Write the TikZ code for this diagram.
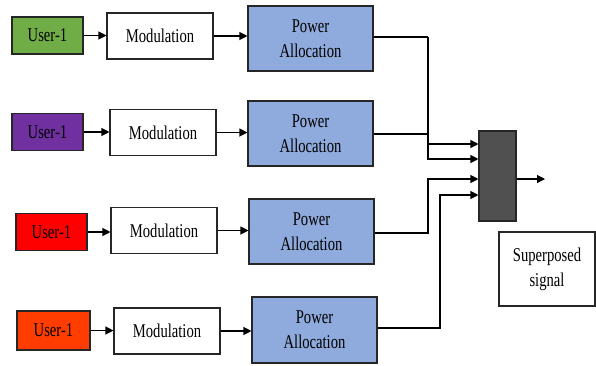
\documentclass[tikz,border=0pt]{standalone}
\usepackage{fontspec}
\usepackage{graphicx}
\setmainfont{Liberation Serif}
\usetikzlibrary{arrows.meta}
\newcommand{\nar}[1]{\scalebox{0.75}[1]{#1}}
\definecolor{ugreen}{RGB}{112,173,71}
\definecolor{upurple}{RGB}{112,48,160}
\definecolor{ured}{RGB}{255,0,0}
\definecolor{uorange}{RGB}{255,61,0}
\definecolor{pablue}{RGB}{143,170,220}
\definecolor{combgray}{RGB}{80,80,80}
\tikzset{
  box/.style={draw=black!85, line width=1.1pt, rectangle, inner sep=0pt, align=center,
    font=\fontsize{19.5}{25}\selectfont},
  userbox/.style={box, minimum width=71pt, minimum height=37pt},
  modbox/.style={box, fill=white, minimum width=106pt, minimum height=46pt},
  pabox/.style={box, fill=pablue, minimum width=125pt, minimum height=65pt},
  conn/.style={line width=1.1pt, -{Triangle[length=8pt,width=8pt]}},
  wire/.style={line width=1.1pt}
}
\begin{document}
\begin{tikzpicture}[x=1pt,y=-1pt]
\useasboundingbox (0,0) rectangle (596,365);
% row 1
\node[userbox, fill=ugreen] (u1) at (47.5,35.5) {\nar{User-1}};
\node[modbox] (m1) at (160,36) {\nar{Modulation}};
\node[pabox] (p1) at (310.5,38.5) {\nar{Power}\\\nar{Allocation}};
% row 2
\node[userbox, fill=upurple] (u2) at (47.5,132) {\nar{User-1}};
\node[modbox] (m2) at (163,132.5) {\nar{Modulation}};
\node[pabox] (p2) at (310.5,133.5) {\nar{Power}\\\nar{Allocation}};
% row 3
\node[userbox, fill=ured] (u3) at (51.5,232) {\nar{User-1}};
\node[modbox] (m3) at (164,230.5) {\nar{Modulation}};
\node[pabox] (p3) at (311.5,231.5) {\nar{Power}\\\nar{Allocation}};
% row 4
\node[userbox, fill=uorange, minimum width=73pt, minimum height=39pt] (u4) at (53.5,330.5) {\nar{User-1}};
\node[modbox] (m4) at (167,331) {\nar{Modulation}};
\node[pabox, minimum height=66pt] (p4) at (314.5,330) {\nar{Power}\\\nar{Allocation}};
% combiner and output label
\node[box, fill=combgray, minimum width=37pt, minimum height=90pt] (c) at (497.5,176) {};
\node[box, fill=white, minimum width=96pt, minimum height=74pt] (s) at (547,269) {\nar{Superposed}\\\nar{signal}};
\coordinate (out) at (545,179);
\coordinate (j1) at (428,37);
\coordinate (j2) at (428,134);
\coordinate (j3) at (428,233);
\coordinate (j4) at (440,328);
% row arrows
\foreach \i in {1,2,3,4}{
  \draw[conn] (u\i.east |- u\i) -- (u\i -| m\i.west);
  \draw[conn] (m\i.east |- m\i) -- (m\i -| p\i.west);
}
% to combiner
\draw[wire] (p1.east |- j1) -- (j1);
\draw[conn] (j1) |- (c.west |- 0,144);
\draw[wire] (p2.east |- j2) -- (j2);
\draw[conn] (j2) |- (c.west |- 0,159);
\draw[conn] (p3.east |- j3) -- (j3) |- (c.west |- 0,179);
\draw[conn] (p4.east |- j4) -- (j4) |- (c.west |- 0,195);
\draw[conn] (c.east |- out) -- (out);
\end{tikzpicture}
\end{document}
